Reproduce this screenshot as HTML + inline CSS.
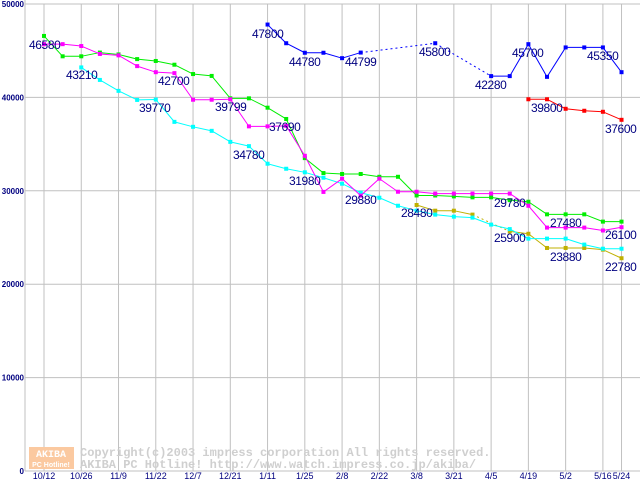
<!DOCTYPE html>
<html><head><meta charset="utf-8"><style>
body{margin:0;background:#fff;width:640px;height:480px;overflow:hidden}
svg{display:block}
</style></head><body>
<svg id="chart" width="640" height="480" xmlns="http://www.w3.org/2000/svg" font-family="Liberation Sans, sans-serif"></svg>
<script>
const xLabels=["10/12","10/26","11/9","11/22","12/7","12/21","1/11","1/25","2/8","2/22","3/8","3/21","4/5","4/19","5/2","5/16","5/24"];
const yTicks=[0,10000,20000,30000,40000,50000];
const green=[46580,44400,44400,44800,44600,44100,43900,43500,42500,42300,39900,39900,38900,37690,33500,31900,31800,31800,31500,31500,29500,29500,29400,29300,29300,29000,28830,27480,27480,27480,26700,26700];
const magenta=[45700,45700,45500,44650,44500,43350,42700,42600,39750,39750,39799,36900,36900,36950,33750,29880,31300,29480,31300,29900,29900,29700,29700,29700,29700,29700,28400,26060,26060,26060,25750,26100];
const cyan=[null,null,43210,41870,40700,39730,39770,37380,36850,36420,35240,34780,32900,32360,31980,31400,30760,29800,29260,28400,27870,27450,27230,27130,26380,25900,24880,24880,24880,24240,23800,23800];
const olive=[null,null,null,null,null,null,null,null,null,null,null,null,null,null,null,null,null,null,null,null,28480,27870,27870,27450,null,25650,25400,23880,23880,23880,23700,22780];
const blue=[null,null,null,null,null,null,null,null,null,null,null,null,47800,45800,44780,44780,44200,44799,null,null,null,45800,null,null,42280,42280,45700,42200,45350,45350,45350,42700];
const red=[null,null,null,null,null,null,null,null,null,null,null,null,null,null,null,null,null,null,null,null,null,null,null,null,null,null,39800,39800,38780,38570,38460,37600];
const labels=[
["46580",29,49],["43210",66,79],["42700",158,85],["39770",139,112],["39799",215,111],["34780",233,159],["37690",269,131],["31980",289,185],
["47800",252,38],["44780",289,66],["44799",345,66],["45800",419,56],["42280",475,89],["45700",512,57],["45350",587,60],["39800",531,112],["37600",605,133],
["29880",345,204],["28480",401,217],["29780",494,207],["27480",550,227],["25900",494,242],["26100",605,239],["23880",550,261],["22780",605,271]];
const NS="http://www.w3.org/2000/svg";
const svg=document.getElementById('chart');
const X=i=>44+i*18.63;
const Y=v=>471-v*0.00934;
function mk(t,a,p){const e=document.createElementNS(NS,t);for(const k in a)e.setAttribute(k,a[k]);(p||svg).appendChild(e);return e;}
const g=mk('g',{});


yTicks.forEach(v=>{mk('line',{x1:25,x2:640,y1:Y(v),y2:Y(v),stroke:'#c0c0c0','stroke-width':1},g);
 const t=mk('text',{x:24,y:Y(v)+3,'text-anchor':'end','font-size':8,'font-weight':'bold',fill:'#000080'});t.textContent=v;
 
 });
xLabels.forEach((l,k)=>{const i=k<16?k*2:31;mk('line',{x1:X(i),x2:X(i),y1:Y(50000),y2:471,stroke:'#c0c0c0','stroke-width':1},g);
 const t=mk('text',{x:X(i),y:479,'text-anchor':'middle','font-size':9,fill:'#000080'});t.textContent=l;
 
 });
mk('line',{x1:25,x2:25,y1:0,y2:471,stroke:'#c0c0c0'});
// watermark
const wm=mk('g',{});


mk('rect',{x:29,y:447,width:45,height:22,fill:'#fbc9a0'},wm);
const w1=mk('text',{x:51,y:457,'text-anchor':'middle','font-size':10,'font-weight':'bold',fill:'#fff','font-family':'Liberation Mono, monospace'},wm);w1.textContent='AKIBA';
const w2=mk('text',{x:51,y:467,'text-anchor':'middle','font-size':7,'font-weight':'bold',fill:'#fff'},wm);w2.textContent='PC Hotline!';
const c1=mk('text',{x:80,y:456,'font-size':12,'font-weight':'bold',fill:'#cfcfcf','font-family':'Liberation Mono, monospace'},wm);c1.textContent='Copyright(c)2003 impress corporation All rights reserved.';
const c2=mk('text',{x:80,y:468,'font-size':12,'font-weight':'bold',fill:'#cfcfcf','font-family':'Liberation Mono, monospace'},wm);c2.textContent='AKIBA PC Hotline!  http://www.watch.impress.co.jp/akiba/';
function series(data,color,name){
 const sg=mk('g',{});
 
 
 let prev=-1;
 data.forEach((v,i)=>{if(v==null)return;
  if(prev>=0){mk('line',{x1:X(prev),y1:Y(data[prev]),x2:X(i),y2:Y(v),stroke:color,'stroke-width':1,'stroke-dasharray':(i-prev>1)?'2,3':''},sg);}
  prev=i;});
 data.forEach((v,i)=>{if(v==null)return;const r=mk('rect',{x:X(i)-2,y:Y(v)-2,width:4,height:4,fill:color},sg);
  
  });
}
series(olive,'#c0b000','olive-series');
series(cyan,'#00ffff','cyan-series');
series(green,'#00ee00','green-series');
series(magenta,'#ff00ff','magenta-series');
series(blue,'#0000ff','blue-series');
series(red,'#ff0000','red-series');
labels.forEach(l=>{const t=mk('text',{x:l[1],y:l[2],'font-size':12,fill:'#000080','letter-spacing':'-0.4'});t.textContent=l[0];
 
 });
</script>
</body></html>
